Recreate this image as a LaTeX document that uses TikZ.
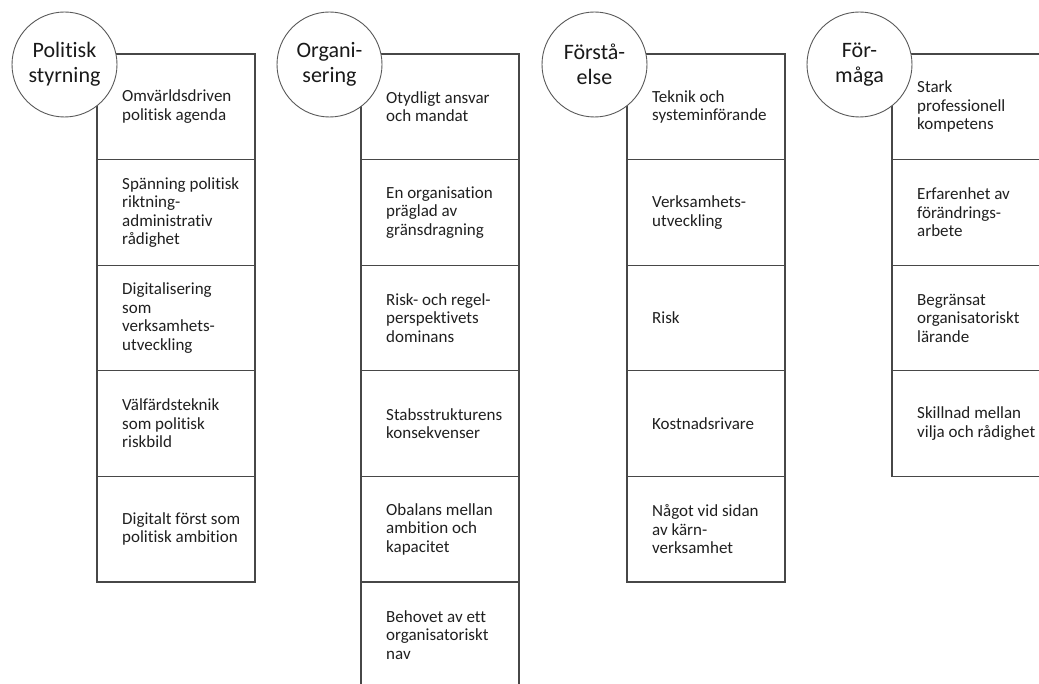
\documentclass[tikz,border=0pt]{standalone}
\usepackage{fontspec}
\setmainfont{Carlito}[Ligatures={NoCommon,NoRare}]
\begin{document}
\begin{tikzpicture}[x=1pt,y=-1pt,
  cellbox/.style={draw=black!72, line width=1.1pt, anchor=north west, minimum width=158pt, minimum height=105.6pt, inner sep=0pt, outer sep=0pt},
  widebox/.style={cellbox, minimum width=170pt},
  celltext/.style={anchor=west, align=left, inner sep=0pt, text=black!88, font=\fontsize{17}{18.5}\selectfont},
  theme/.style={circle, draw=black!65, line width=0.9pt, fill=white, minimum size=105pt, inner sep=0pt, align=center, text=black!90, font=\fontsize{22}{25}\selectfont}]
\useasboundingbox (0,0) rectangle (1039,684);
\clip (0,0) rectangle (1039,684);
\newcommand\mkcell[5][cellbox]{%
  \node[#1] (#2) at #3 {};
  \node[celltext] (#2t) at ([xshift=25pt]#2.west) {#4#5};}
% column 1
\mkcell{a1}{(97,54)}{}{Omvärldsdriven\\politisk agenda}
\mkcell{a2}{(97,159.6)}{}{Spänning politisk\\riktning-\\administrativ\\rådighet}
\mkcell{a3}{(97,265.2)}{}{Digitalisering\\som\\verksamhets-\\utveckling}
\mkcell{a4}{(97,370.8)}{}{Välfärdsteknik\\som politisk\\riskbild}
\mkcell{a5}{(97,476.4)}{}{Digitalt först som\\politisk ambition}
% column 2
\mkcell{b1}{(361,54)}{}{Otydligt ansvar\\och mandat}
\mkcell{b2}{(361,159.6)}{}{En organisation\\präglad av\\gränsdragning}
\mkcell{b3}{(361,265.2)}{}{Risk- och regel-\\perspektivets\\dominans}
\mkcell{b4}{(361,370.8)}{}{Stabsstrukturens\\konsekvenser}
\mkcell{b5}{(361,476.4)}{}{Obalans mellan\\ambition och\\kapacitet}
\mkcell{b6}{(361,582)}{}{Behovet av ett\\organisatoriskt\\nav}
% column 3
\mkcell{c1}{(627,54)}{}{Teknik och\\systeminförande}
\mkcell{c2}{(627,159.6)}{}{Verksamhets-\\utveckling}
\mkcell{c3}{(627,265.2)}{}{Risk}
\mkcell{c4}{(627,370.8)}{}{Kostnadsrivare}
\mkcell{c5}{(627,476.4)}{}{Något vid sidan\\av kärn-\\verksamhet}
% column 4
\mkcell[widebox]{d1}{(892,54)}{}{Stark\\professionell\\kompetens}
\mkcell[widebox]{d2}{(892,159.6)}{}{Erfarenhet av\\förändrings-\\arbete}
\mkcell[widebox]{d3}{(892,265.2)}{}{Begränsat\\organisatoriskt\\lärande}
\mkcell[widebox]{d4}{(892,370.8)}{}{Skillnad mellan\\vilja och rådighet}
% theme circles
\node[theme] (ta) at (64.5,64.5) {Politisk\\styrning};
\node[theme] (tb) at (329.5,64.5) {Organi-\\sering};
\node[theme] (tc) at (594.5,64.5) {Förstå-\\else};
\node[theme] (td) at (859.5,64.5) {För-\\måga};
\end{tikzpicture}
\end{document}
